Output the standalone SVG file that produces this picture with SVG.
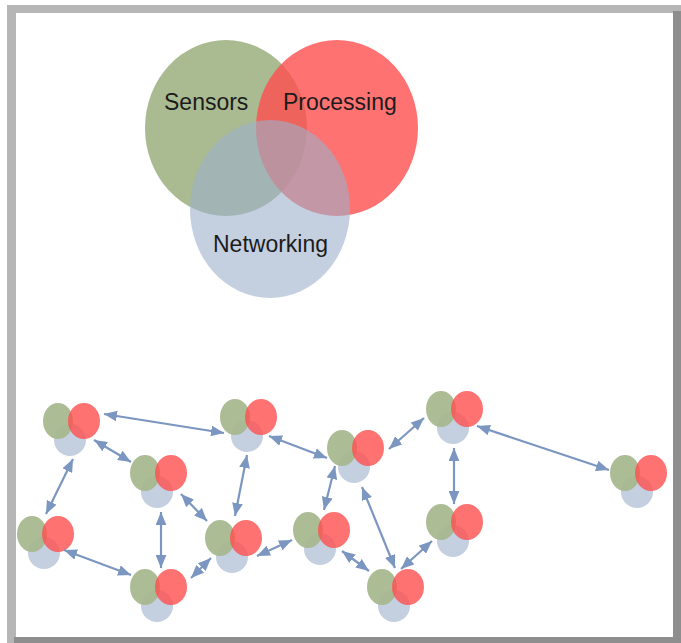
<svg xmlns="http://www.w3.org/2000/svg" xmlns:xlink="http://www.w3.org/1999/xlink" width="681" height="643" viewBox="0 0 681 643">
  <style>
    .g { fill: #aaba91; }
    .r { fill: #ff4f4f; fill-opacity: 0.8; }
    .b { fill: #9db1cb; fill-opacity: 0.6; }
    .mb { fill: #c4d0e0; }
    .mg { fill: #a5b68c; fill-opacity: 0.92; }
    .mr { fill: #ff4f4f; fill-opacity: 0.8; }
    .lbl { font-family: "Liberation Sans", Arial, sans-serif; font-size: 23px; fill: #1c1c1c; }
    .link { stroke: #7b96c0; stroke-width: 2.2; fill: none; marker-start: url(#ah); marker-end: url(#ah); }
  </style>
  <defs>
    <marker id="ah" viewBox="0 0 12 10" refX="12" refY="5" markerWidth="13" markerHeight="11" markerUnits="userSpaceOnUse" orient="auto-start-reverse">
      <path d="M0,0 L12,5 L0,10 Z" fill="#7b96c0"/>
    </marker>
    <g id="mini">
      <ellipse class="mb" cx="-1" cy="19" rx="16" ry="16"/>
      <ellipse class="mg" cx="-13" cy="0" rx="15" ry="18"/>
      <ellipse class="mr" cx="13" cy="0" rx="16" ry="18"/>
    </g>
  </defs>

  <!-- frame -->
  <g id="frame">
    <rect x="7" y="5" width="674" height="638" fill="#b6b6b6"/>
    <rect x="673" y="11" width="8" height="632" fill="#8e8e8e"/>
    <rect x="14" y="637" width="667" height="6" fill="#8e8e8e"/>
    <rect x="16" y="13" width="657" height="624" fill="#ffffff"/>
  </g>

  <!-- big venn -->
  <g id="venn">
    <ellipse class="g" cx="226" cy="128" rx="81" ry="88"/>
    <ellipse class="r" cx="337" cy="128" rx="81" ry="88"/>
    <ellipse class="b" cx="270" cy="209" rx="80" ry="89"/>
    <text class="lbl" x="164" y="110">Sensors</text>
    <text class="lbl" x="283" y="110">Processing</text>
    <text class="lbl" x="213" y="252">Networking</text>
  </g>

  <!-- nodes -->
  <g id="node1" transform="translate(71,421)"><use xlink:href="#mini"/></g>
  <g id="node2" transform="translate(248,417)"><use xlink:href="#mini"/></g>
  <g id="node3" transform="translate(158,473)"><use xlink:href="#mini"/></g>
  <g id="node4" transform="translate(355,448)"><use xlink:href="#mini"/></g>
  <g id="node5" transform="translate(454,409)"><use xlink:href="#mini"/></g>
  <g id="node6" transform="translate(638,473)"><use xlink:href="#mini"/></g>
  <g id="node7" transform="translate(45,534)"><use xlink:href="#mini"/></g>
  <g id="node8" transform="translate(233,538)"><use xlink:href="#mini"/></g>
  <g id="node9" transform="translate(321,530)"><use xlink:href="#mini"/></g>
  <g id="node10" transform="translate(454,522)"><use xlink:href="#mini"/></g>
  <g id="node11" transform="translate(158,587)"><use xlink:href="#mini"/></g>
  <g id="node12" transform="translate(395,587)"><use xlink:href="#mini"/></g>

  <!-- connectors -->
  <g id="connectors">
    <line class="link" x1="104" y1="414" x2="224" y2="433"/>
    <line class="link" x1="94" y1="440" x2="131" y2="462"/>
    <line class="link" x1="73" y1="459" x2="46" y2="514"/>
    <line class="link" x1="64" y1="550" x2="131" y2="575"/>
    <line class="link" x1="161" y1="512" x2="161" y2="568"/>
    <line class="link" x1="181" y1="494" x2="207" y2="521"/>
    <line class="link" x1="247" y1="455" x2="235" y2="516"/>
    <line class="link" x1="211" y1="558" x2="191" y2="578"/>
    <line class="link" x1="257" y1="556" x2="292" y2="540"/>
    <line class="link" x1="269" y1="436" x2="327" y2="458"/>
    <line class="link" x1="335" y1="466" x2="324" y2="510"/>
    <line class="link" x1="389" y1="449" x2="424" y2="418"/>
    <line class="link" x1="477" y1="426" x2="609" y2="470"/>
    <line class="link" x1="454" y1="448" x2="454" y2="504"/>
    <line class="link" x1="362" y1="487" x2="395" y2="568"/>
    <line class="link" x1="342" y1="551" x2="369" y2="571"/>
    <line class="link" x1="432" y1="541" x2="401" y2="569"/>
  </g>
</svg>
